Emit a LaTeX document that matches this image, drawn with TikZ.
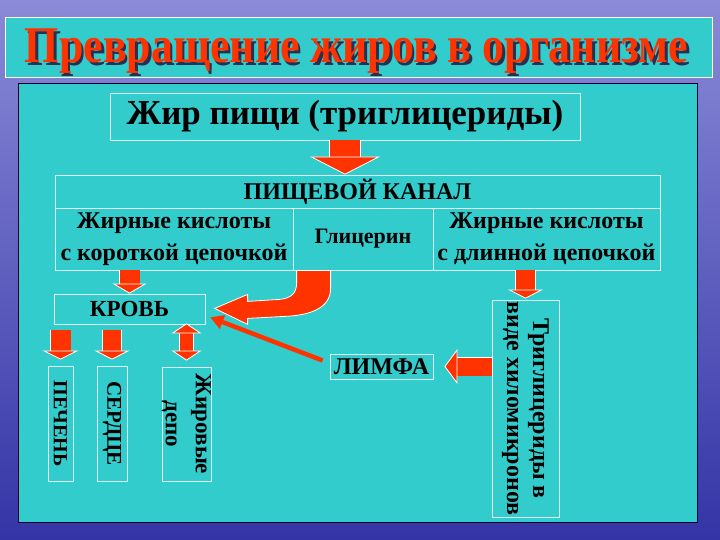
\documentclass[tikz,border=0pt]{standalone}
\usepackage{fontspec}
\setmainfont{Liberation Serif}
\usetikzlibrary{arrows.meta,calc}
\definecolor{arrred}{HTML}{FF3300}
\definecolor{panelteal}{HTML}{33CCCC}
\definecolor{boxline}{HTML}{DDFFFF}
\definecolor{bgtop}{HTML}{8A8AD8}
\definecolor{bgbot}{HTML}{3434A6}
\definecolor{titleshadow}{HTML}{283050}
\begin{document}
\begin{tikzpicture}[x=1pt,y=-1pt,
    box/.style={draw=boxline, line width=0.8pt, inner sep=0pt, align=center,
      font=\bfseries\fontsize{24}{26}\selectfont},
    vbox/.style={box, rotate=-90},
    titletext/.style={inner sep=0pt, text=arrred,
      font=\bfseries\fontsize{46}{50}\selectfont},
    blockarr/.style n args={3}{draw=arrred, line width=#1,
      -{Triangle[length=#3,width=#2,line width=0.8pt,color=white,fill=arrred]},
      preaction={draw=white, -, line width=#1+1.6pt, shorten >=#3}},
    dblarr/.style n args={3}{draw=arrred, line width=#1,
      {Triangle[length=#3,width=#2,line width=0.8pt,color=white,fill=arrred]}-{Triangle[length=#3,width=#2,line width=0.8pt,color=white,fill=arrred]},
      preaction={draw=white, -, line width=#1+1.6pt, shorten >=#3, shorten <=#3}},
    thinarr/.style={draw=arrred, line width=4.5pt,
      -{Triangle[length=13pt,width=15pt,line width=0pt]}}]
  \useasboundingbox (0,0) rectangle (720,540);
  % Hintergrund
  \shade[top color=bgtop, bottom color=bgbot] (0,0) rectangle (720,540);
  % Titel
  \node[draw=white, line width=1pt, fill=panelteal, minimum width=707pt,
    minimum height=60pt] (titlebar) at (358.5,48) {};
  \node[titletext, text=titleshadow] (titleshade) at (359,54)
    {\scalebox{0.955}[1.12]{Превращение жиров в организме}};
  \node[titletext] (title) at (356.5,51.5)
    {\scalebox{0.955}[1.12]{Превращение жиров в организме}};
  % Tafel
  \draw[fill=panelteal, draw=black!85!blue, line width=1pt] (18,84) rectangle (697,522);
  % Kaesten
  \node[box, minimum width=470pt, minimum height=47pt,
    font=\bfseries\fontsize{35}{37}\selectfont] (food) at (345,116.5)
    {Жир пищи (триглицериды)};
  \node[box, minimum width=605pt, minimum height=33pt] (canal) at (357.5,191.5)
    {ПИЩЕВОЙ КАНАЛ};
  \node[box, minimum width=238pt, minimum height=62pt,
    font=\bfseries\fontsize{24}{32}\selectfont] (short) at (174,239)
    {Жирные кислоты\\с короткой цепочкой};
  \node[box, minimum width=140pt, minimum height=62pt,
    font=\bfseries\fontsize{22}{24}\selectfont] (glyc) at (363,239)
    {Глицерин};
  \node[box, minimum width=227pt, minimum height=62pt,
    font=\bfseries\fontsize{24}{32}\selectfont] (long) at (546.5,239)
    {Жирные кислоты\\с длинной цепочкой};
  \node[box, minimum width=151pt, minimum height=30pt,
    font=\bfseries\fontsize{23}{25}\selectfont] (blood) at (129.5,309)
    {КРОВЬ};
  \node[vbox, minimum width=115pt, minimum height=25pt,
    font=\bfseries\fontsize{20}{22}\selectfont] (liver) at (60.5,423.5)
    {ПЕЧЕНЬ};
  \node[vbox, minimum width=115pt, minimum height=30pt,
    font=\bfseries\fontsize{21}{23}\selectfont] (heart) at (112,423.5)
    {СЕРДЦЕ};
  \node[vbox, minimum width=114pt, minimum height=49pt,
    font=\bfseries\fontsize{23}{30}\selectfont] (depot) at (186.5,424)
    {Жировые\\депо};
  \node[box, minimum width=103pt, minimum height=25pt] (lymph) at (381.5,366.5)
    {ЛИМФА};
  \node[vbox, minimum width=217pt, minimum height=67pt] (chylo) at (525.5,408.5)
    {Триглицериды в\\виде хиломикронов};
  % Pfeile
  \draw[blockarr={30pt}{70pt}{18pt}] (food.south) -- (food.south |- canal.north);
  \draw[blockarr={20pt}{34pt}{10pt}] (blood.north |- short.south) -- (blood.north);
  \draw[blockarr={19pt}{35pt}{9pt}] (chylo.west |- long.south) -- ($(chylo.west)+(0,-1)$);
  \draw[blockarr={20pt}{36pt}{9pt}] ($(liver.west |- blood.south)+(0,6)$) -- ($(liver.west)+(0,-6)$);
  \draw[blockarr={18pt}{35pt}{9pt}] ($(heart.west |- blood.south)+(0,6)$) -- ($(heart.west)+(0,-6)$);
  \draw[dblarr={13pt}{30pt}{10pt}] ($(depot.west |- blood.south)+(0,-1)$) -- ($(depot.west)+(0,-6)$);
  \draw[blockarr={18pt}{35pt}{13pt}] (chylo.south |- lymph.east) -- ($(lymph.east)+(11,0)$);
  \draw[thinarr] ($(lymph.west)+(-7,-6)$) -- ($(blood.south east)+(5,-7)$);
  % Glycerin -> Blut
  \begin{scope}[shift={(glyc.south west)}]
    \draw[fill=arrred, draw=white, line width=0.8pt] (4,0) -- (38,0) -- (38,18)
      .. controls (38,38) and (17,45) .. (-8,46) -- (-45,48) -- (-45,54)
      -- (-78,38) -- (-45,24) -- (-45,31) -- (-13,29)
      .. controls (-1,28) and (4,22) .. (4,13) -- cycle;
  \end{scope}
\end{tikzpicture}
\end{document}
